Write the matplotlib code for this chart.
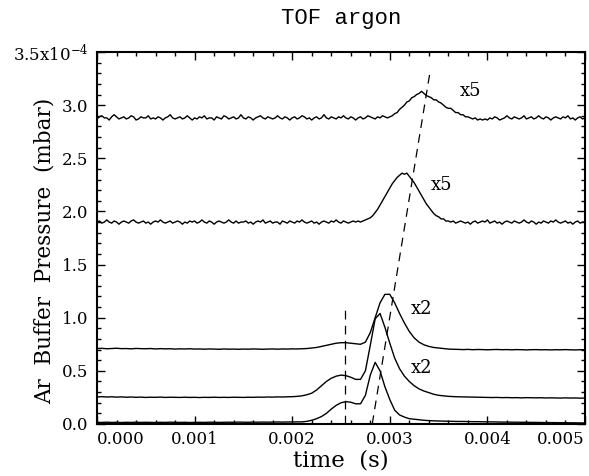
import numpy as np
import matplotlib
matplotlib.use("Agg")
import matplotlib.pyplot as plt
from matplotlib.ticker import MultipleLocator, FixedLocator

# ---------------- data (pressure in units of 1e-4 mbar) ----------------
time_fine = np.round(np.arange(201) * 0.000025, 7)    # sampling grid for the noisy x5 traces
time_coarse = np.round(np.arange(101) * 0.00005, 7)   # sampling grid for the smooth traces

trace_top_x5 = [
    2.87, 2.89, 2.90, 2.88, 2.88, 2.86, 2.89, 2.91, 2.89, 2.87, 2.88, 2.89, 2.87, 2.88, 2.90, 2.89, 2.86, 2.87, 2.89, 2.88,
    2.88, 2.90, 2.87, 2.88, 2.87, 2.89, 2.88, 2.86, 2.88, 2.89, 2.91, 2.88, 2.87, 2.88, 2.89, 2.87, 2.88, 2.90, 2.88, 2.86,
    2.88, 2.87, 2.89, 2.88, 2.90, 2.87, 2.88, 2.88, 2.86, 2.89, 2.88, 2.87, 2.90, 2.89, 2.87, 2.88, 2.89, 2.87, 2.88, 2.91,
    2.88, 2.87, 2.89, 2.88, 2.86, 2.88, 2.89, 2.90, 2.88, 2.87, 2.89, 2.88, 2.87, 2.88, 2.90, 2.88, 2.87, 2.89, 2.88, 2.86,
    2.88, 2.89, 2.87, 2.88, 2.90, 2.89, 2.87, 2.88, 2.86, 2.88, 2.89, 2.87, 2.88, 2.91, 2.88, 2.87, 2.89, 2.88, 2.87, 2.89,
    2.88, 2.90, 2.88, 2.87, 2.89, 2.88, 2.86, 2.88, 2.89, 2.87, 2.88, 2.90, 2.89, 2.88, 2.87, 2.89, 2.88, 2.90, 2.89, 2.88,
    2.89, 2.90, 2.92, 2.93, 2.96, 2.98, 3.00, 3.03, 3.04, 3.07, 3.08, 3.10, 3.11, 3.13, 3.11, 3.09, 3.08, 3.07, 3.05, 3.05,
    3.03, 3.02, 3.00, 2.98, 2.97, 2.97, 2.95, 2.93, 2.93, 2.91, 2.91, 2.89, 2.89, 2.88, 2.87, 2.88, 2.86, 2.87, 2.86, 2.87,
    2.86, 2.88, 2.87, 2.89, 2.88, 2.86, 2.87, 2.88, 2.90, 2.88, 2.87, 2.89, 2.88, 2.87, 2.88, 2.90, 2.87, 2.88, 2.89, 2.87,
    2.88, 2.90, 2.88, 2.87, 2.89, 2.88, 2.86, 2.88, 2.89, 2.88, 2.87, 2.89, 2.88, 2.90, 2.87, 2.88, 2.86, 2.88, 2.89, 2.87,
    2.88,
]

trace_second_x5 = [
    1.90, 1.91, 1.89, 1.90, 1.92, 1.90, 1.89, 1.91, 1.90, 1.88, 1.90, 1.91, 1.90, 1.89, 1.91, 1.92, 1.90, 1.89, 1.90, 1.91,
    1.89, 1.90, 1.88, 1.90, 1.91, 1.90, 1.92, 1.90, 1.89, 1.90, 1.91, 1.89, 1.90, 1.91, 1.90, 1.88, 1.90, 1.89, 1.91, 1.90,
    1.91, 1.89, 1.90, 1.92, 1.90, 1.89, 1.91, 1.90, 1.88, 1.90, 1.91, 1.90, 1.89, 1.90, 1.92, 1.90, 1.89, 1.91, 1.89, 1.90,
    1.90, 1.91, 1.89, 1.90, 1.88, 1.90, 1.91, 1.90, 1.92, 1.89, 1.90, 1.91, 1.89, 1.90, 1.90, 1.88, 1.91, 1.90, 1.89, 1.91,
    1.90, 1.89, 1.91, 1.90, 1.92, 1.90, 1.89, 1.90, 1.91, 1.89, 1.90, 1.88, 1.90, 1.91, 1.90, 1.89, 1.91, 1.90, 1.92, 1.90,
    1.89, 1.91, 1.90, 1.89, 1.90, 1.91, 1.90, 1.91,
    1.90, 1.91, 1.92, 1.93, 1.94, 1.96, 1.99, 2.02, 2.06, 2.10, 2.14, 2.18, 2.22, 2.26, 2.29, 2.32, 2.34, 2.36, 2.35, 2.36,
    2.33, 2.30, 2.27, 2.23, 2.19, 2.15, 2.11, 2.07, 2.04, 2.01, 1.98, 1.96, 1.95, 1.93, 1.93, 1.91, 1.91, 1.90, 1.91, 1.89,
    1.90,
    1.91, 1.90, 1.89, 1.90, 1.88, 1.90, 1.91, 1.89, 1.90, 1.91, 1.90, 1.92, 1.89, 1.90, 1.91, 1.89, 1.90, 1.88, 1.90, 1.91,
    1.90, 1.89, 1.91, 1.90, 1.89, 1.90, 1.92, 1.90, 1.89, 1.91, 1.90, 1.88, 1.90, 1.89, 1.91, 1.90, 1.89, 1.91, 1.90, 1.92,
    1.90, 1.89, 1.90, 1.91, 1.89, 1.90, 1.88, 1.90, 1.91, 1.89, 1.90, 1.90,
]

trace_third_x2 = [
    0.710, 0.712, 0.708, 0.710, 0.713, 0.709, 0.710, 0.707, 0.711, 0.709,
    0.708, 0.710, 0.706, 0.709, 0.707, 0.708, 0.705, 0.707, 0.706, 0.708,
    0.705, 0.706, 0.704, 0.706, 0.705, 0.703, 0.706, 0.704, 0.705, 0.703,
    0.705, 0.704, 0.706, 0.705, 0.703, 0.705, 0.706, 0.704, 0.706, 0.705,
    0.707, 0.706, 0.708, 0.710, 0.715, 0.720, 0.730, 0.740, 0.750, 0.760,
    0.765, 0.765, 0.760, 0.755, 0.750, 0.770, 0.860, 1.000, 1.140, 1.220,
    1.220, 1.140, 1.040, 0.950, 0.870, 0.810, 0.770, 0.745, 0.730, 0.720,
    0.715, 0.710, 0.705, 0.703, 0.702, 0.700, 0.702, 0.699, 0.701, 0.700,
    0.698, 0.700, 0.701, 0.699, 0.700, 0.698, 0.700, 0.699, 0.697, 0.699,
    0.700, 0.698, 0.699, 0.697, 0.699, 0.698, 0.700, 0.698, 0.697, 0.699,
    0.698,
]

trace_fourth_x2 = [
    0.255, 0.257, 0.254, 0.256, 0.253, 0.255, 0.252, 0.254, 0.251, 0.253,
    0.250, 0.252, 0.251, 0.253, 0.250, 0.252, 0.251, 0.250, 0.252, 0.250,
    0.251, 0.249, 0.251, 0.250, 0.252, 0.250, 0.251, 0.250, 0.252, 0.251,
    0.250, 0.252, 0.251, 0.253, 0.252, 0.254, 0.253, 0.255, 0.254, 0.256,
    0.257, 0.260, 0.265, 0.275, 0.290, 0.320, 0.360, 0.400, 0.430, 0.450,
    0.460, 0.455, 0.440, 0.420, 0.420, 0.500, 0.740, 0.990, 1.040, 0.910,
    0.760, 0.620, 0.520, 0.450, 0.400, 0.360, 0.330, 0.310, 0.295, 0.280,
    0.270, 0.265, 0.260, 0.258, 0.256, 0.255, 0.254, 0.253, 0.252, 0.251,
    0.250, 0.249, 0.250, 0.248, 0.249, 0.247, 0.248, 0.246, 0.248, 0.247,
    0.246, 0.247, 0.245, 0.246, 0.245, 0.244, 0.246, 0.244, 0.245, 0.243,
    0.244,
]

trace_bottom = [
    0.016, 0.015, 0.017, 0.015, 0.016, 0.014, 0.016, 0.015, 0.017, 0.015,
    0.016, 0.015, 0.014, 0.016, 0.015, 0.017, 0.016, 0.015, 0.016, 0.014,
    0.015, 0.016, 0.015, 0.017, 0.016, 0.015, 0.016, 0.017, 0.016, 0.018,
    0.017, 0.016, 0.018, 0.017, 0.018, 0.017, 0.018, 0.019, 0.018, 0.019,
    0.019, 0.020, 0.020, 0.025, 0.035, 0.050, 0.070, 0.100, 0.140, 0.175,
    0.200, 0.210, 0.205, 0.190, 0.190, 0.270, 0.460, 0.580, 0.500, 0.350,
    0.230, 0.130, 0.085, 0.065, 0.050, 0.045, 0.040, 0.035, 0.032, 0.030,
    0.028, 0.027, 0.026, 0.025, 0.024, 0.024, 0.023, 0.022, 0.022, 0.021,
    0.020, 0.020, 0.019, 0.018, 0.018, 0.017, 0.017, 0.016, 0.016, 0.015,
    0.015, 0.014, 0.014, 0.013, 0.013, 0.012, 0.012, 0.011, 0.011, 0.010,
    0.010,
]

fine_traces = [trace_top_x5, trace_second_x5]
coarse_traces = [trace_third_x2, trace_fourth_x2, trace_bottom]

# dashed guide lines (time, pressure)
vline_t = [0.00254, 0.00254]
vline_p = [0.0, 1.12]
slant_t = [0.00282, 0.00341]
slant_p = [0.0, 3.30]

# multiplier annotations
mult_labels = ["x5", "x5", "x2", "x2"]
mult_t = [0.00383, 0.00353, 0.00333, 0.00333]
mult_p = [3.13, 2.25, 1.08, 0.53]

x_ticks = [0.000, 0.001, 0.002, 0.003, 0.004, 0.005]
x_ticklabels = ["0.000", "0.001", "0.002", "0.003", "0.004", "0.005"]
y_ticks = [0.0, 0.5, 1.0, 1.5, 2.0, 2.5, 3.0, 3.5]
y_ticklabels = ["0.0", "0.5", "1.0", "1.5", "2.0", "2.5", "3.0", r"3.5x10$^{-4}$"]

# ---------------- figure ----------------
plt.rcParams["mathtext.fontset"] = "dejavuserif"
serif = "DejaVu Serif"

fig = plt.figure(figsize=(5.89, 4.76), dpi=100)
ax = fig.add_axes([97 / 589, 1 - 424 / 476, (585 - 97) / 589, (424 - 52) / 476])

for tr in fine_traces:
    ax.plot(time_fine, tr, color="black", lw=1.0)
for tr in coarse_traces:
    ax.plot(time_coarse, tr, color="black", lw=1.0)

ax.plot(vline_t, vline_p, color="black", lw=0.9, dashes=(7, 5))
ax.plot(slant_t, slant_p, color="black", lw=0.9, dashes=(7, 5))

for lab, tt, pp in zip(mult_labels, mult_t, mult_p):
    ax.text(tt, pp, lab, fontsize=13, family=serif, ha="center", va="center")

ax.set_xlim(0, 0.005)
ax.set_ylim(0, 3.5)

ax.xaxis.set_major_locator(FixedLocator(x_ticks))
ax.set_xticklabels(x_ticklabels, family=serif, fontsize=12)
ax.yaxis.set_major_locator(FixedLocator(y_ticks))
ax.set_yticklabels(y_ticklabels, family=serif, fontsize=12)
ax.xaxis.set_minor_locator(MultipleLocator(0.0002))
ax.yaxis.set_minor_locator(MultipleLocator(0.1))

xl = ax.get_xticklabels()
xl[0].set_ha("left")
xl[-1].set_ha("right")

ax.tick_params(which="both", direction="in", top=True, right=True, width=1.0, color="black")
ax.tick_params(which="major", length=6)
ax.tick_params(which="minor", length=3)
ax.tick_params(axis="x", pad=5)
ax.tick_params(axis="y", pad=6)

for s in ax.spines.values():
    s.set_linewidth(1.5)

ax.set_xlabel("time  (s)", family=serif, fontsize=16.5)
ax.set_ylabel("Ar  Buffer  Pressure  (mbar)", family=serif, fontsize=15.5)
ax.xaxis.set_label_coords(0.5, -0.068)
ax.yaxis.set_label_coords(-0.085, 0.466)

ax.set_title("TOF argon", family="Liberation Mono", fontsize=16, pad=20)

fig.savefig("out.png", dpi=100)
